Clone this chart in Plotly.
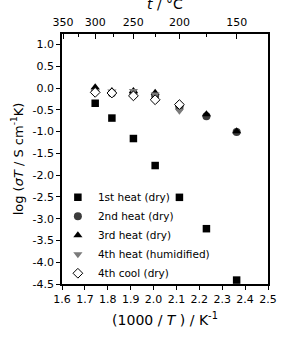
import plotly.graph_objects as go

# 1000/T values (K^-1) for 300,275,250,225,200,175,150 °C
inv_T = [1.745, 1.818, 1.912, 2.007, 2.113, 2.231, 2.363]

heat1_dry = [-0.35, -0.69, -1.16, -1.78, -2.51, -3.23, -4.41]
heat2_dry = [-0.06, -0.12, -0.12, -0.18, -0.45, -0.65, -1.01]
heat3_dry = [0.02, -0.07, -0.07, -0.11, -0.38, -0.60, -0.99]
heat4_hum = [-0.07, -0.08, -0.07, -0.15, -0.52]
cool4_dry = [-0.10, -0.115, -0.18, -0.27, -0.38]

y_ticks = [1.0, 0.5, 0.0, -0.5, -1.0, -1.5, -2.0, -2.5, -3.0, -3.5, -4.0, -4.5]
y_labels = ["1.0", "0.5", "0.0", "-0.5", "-1.0", "-1.5", "-2.0", "-2.5", "-3.0", "-3.5", "-4.0", "-4.5"]
x_ticks = [1.6, 1.7, 1.8, 1.9, 2.0, 2.1, 2.2, 2.3, 2.4, 2.5]
x_labels = ["1.6", "1.7", "1.8", "1.9", "2.0", "2.1", "2.2", "2.3", "2.4", "2.5"]
top_t_major = [350, 300, 250, 200, 150]
top_t_minor = [325, 275, 225, 175]

FONT = "DejaVu Sans"

fig = go.Figure()
fig.add_trace(go.Scatter(x=inv_T, y=heat1_dry, mode="markers", name="1st heat (dry)",
                         marker=dict(symbol="square", size=7.5, color="black"), cliponaxis=False))
fig.add_trace(go.Scatter(x=inv_T, y=heat2_dry, mode="markers", name="2nd heat (dry)",
                         marker=dict(symbol="circle", size=8, color="#3c3c3c")))
fig.add_trace(go.Scatter(x=inv_T, y=heat3_dry, mode="markers", name="3rd heat (dry)",
                         marker=dict(symbol="triangle-up", size=8, color="black")))
fig.add_trace(go.Scatter(x=inv_T[:5], y=heat4_hum, mode="markers", name="4th heat (humidified)",
                         marker=dict(symbol="triangle-down", size=8, color="#7a7a7a")))
fig.add_trace(go.Scatter(x=inv_T[:5], y=cool4_dry, mode="markers", name="4th cool (dry)",
                         marker=dict(symbol="diamond", size=7.5, color="white",
                                     line=dict(color="black", width=1))))

# top axis (temperature in °C)
top_major_pos = [1000.0 / (t + 273.15) for t in top_t_major]
top_minor_pos = [1000.0 / (t + 273.15) for t in top_t_minor]
fig.add_trace(go.Scatter(x=[1.6, 2.5], y=[None, None], xaxis="x2", showlegend=False,
                         hoverinfo="skip", mode="markers"))

fig.update_layout(
    width=287, height=342,
    margin=dict(l=62, r=10, t=34, b=58),
    paper_bgcolor="white", plot_bgcolor="white",
    font=dict(family=FONT, color="black", size=11),
    showlegend=True,
    legend=dict(x=-0.02, y=-0.015, xanchor="left", yanchor="bottom",
                bgcolor="rgba(0,0,0,0)", font=dict(size=10.5, family=FONT),
                itemwidth=30, tracegroupgap=0),
    xaxis=dict(range=[1.6, 2.5], tickvals=x_ticks, ticktext=x_labels,
               showgrid=False, zeroline=False, showline=True, linecolor="black",
               linewidth=1.8, mirror=True, ticks="outside", ticklen=4, tickwidth=1.2,
               tickcolor="black", tickfont=dict(size=11),
               title=dict(text="(1000 / <i>T</i> ) / K<sup>-1</sup>", font=dict(size=14),
                          standoff=10)),
    xaxis2=dict(range=[1.6, 2.5], overlaying="x", side="top", matches="x",
                tickvals=top_major_pos, ticktext=[str(t) for t in top_t_major],
                ticks="inside", ticklen=5, tickwidth=1.2, tickcolor="black",
                minor=dict(tickvals=top_minor_pos, ticks="inside", ticklen=3,
                           tickwidth=1.2, tickcolor="black"),
                showgrid=False, zeroline=False, showline=False,
                ticklabelstandoff=5,
                tickfont=dict(size=11)),
    yaxis=dict(range=[-4.5, 1.24], tickvals=y_ticks, ticktext=y_labels,
               showgrid=False, zeroline=False, showline=True, linecolor="black",
               linewidth=1.8, mirror=True, ticks="outside", ticklen=4, tickwidth=1.2,
               tickcolor="black", tickfont=dict(size=11),
               title=dict(text="log (<i>σT</i> / S cm<sup>-1</sup>K)", font=dict(size=13),
                          standoff=6)),
    annotations=[dict(text="<i>t</i> / °C", xref="paper", yref="paper", x=0.5, y=1,
                      yshift=30, xanchor="center", yanchor="middle", showarrow=False,
                      font=dict(size=14, family=FONT))],
)

fig.write_html("out.html")
